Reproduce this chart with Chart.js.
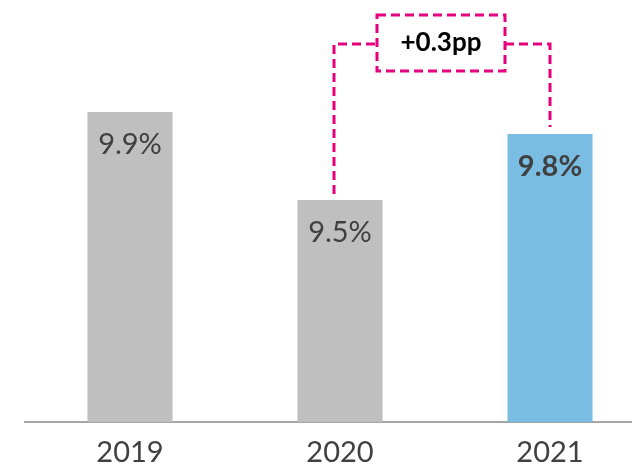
<!DOCTYPE html>
<html>
<head>
<meta charset="utf-8">
<script src="https://cdn.jsdelivr.net/npm/chart.js@4"></script>
<style>
  html, body { margin: 0; padding: 0; background: #fff; overflow: hidden; }
  #wrap { width: 655px; height: 468px; }
</style>
</head>
<body>
<div id="wrap"><canvas id="chart"></canvas></div>
<script>
// data
const years = ['2019', '2020', '2021'];
const shares = [9.9, 9.5, 9.8];
const labelTexts = ['9.9%', '9.5%', '9.8%'];
const deltaText = '+0.3pp';

const GREY = '#bfbfbf';
const BLUE = '#7abde3';
const PINK = '#e6007e';
const TEXT = '#404040';

// labels inside the bars + the magenta bracket
const overlay = {
  id: 'overlay',
  afterDatasetsDraw(chart) {
    const c = chart.ctx;
    const meta = chart.getDatasetMeta(0);
    c.save();
    c.textAlign = 'center';
    c.textBaseline = 'middle';
    meta.data.forEach((bar, i) => {
      c.fillStyle = TEXT;
      c.font = (i === 2 ? 'bold ' : '') + '29px Lato';
      c.fillText(labelTexts[i], bar.x, bar.y + 33);
    });

    const b1 = meta.data[1], b2 = meta.data[2];
    const xl = b1.x - 6, xr = b2.x;
    const top = chart.chartArea.top + 44;
    const boxL = 377, boxR = 505, boxT = chart.chartArea.top + 15, boxB = chart.chartArea.top + 71;
    c.strokeStyle = PINK;
    c.lineWidth = 3;
    c.setLineDash([9, 5]);
    c.beginPath();
    c.moveTo(xl, b1.y - 6);
    c.lineTo(xl, top);
    c.lineTo(boxL, top);
    c.moveTo(boxR, top);
    c.lineTo(xr, top);
    c.lineTo(xr, b2.y - 7);
    c.stroke();
    c.beginPath();
    c.rect(boxL, boxT, boxR - boxL, boxB - boxT);
    c.stroke();
    c.setLineDash([]);
    c.fillStyle = '#000';
    c.font = 'bold 26px Lato';
    c.fillText(deltaText, (boxL + boxR) / 2, (boxT + boxB) / 2);
    c.restore();
  }
};

new Chart(document.getElementById('chart'), {
  type: 'bar',
  data: {
    labels: years,
    datasets: [{
      data: shares,
      backgroundColor: [GREY, GREY, BLUE],
      barPercentage: 0.405,
      categoryPercentage: 1.0
    }]
  },
  options: {
    responsive: true,
    maintainAspectRatio: false,
    animation: false,
    layout: { padding: { left: 25, right: 0, top: 0, bottom: 0 } },
    plugins: { legend: { display: false }, tooltip: { enabled: false } },
    scales: {
      x: {
        grid: { display: false, drawTicks: false },
        border: { display: true, color: '#a6a6a6', width: 2 },
        ticks: { color: TEXT, font: { family: 'Lato', size: 29, lineHeight: 1.0 }, padding: 16 },
        afterFit(scale) { scale.height = 46; }
      },
      y: {
        display: false,
        min: 8.491,
        max: 10.409
      }
    }
  },
  plugins: [overlay]
});
</script>
</body>
</html>
